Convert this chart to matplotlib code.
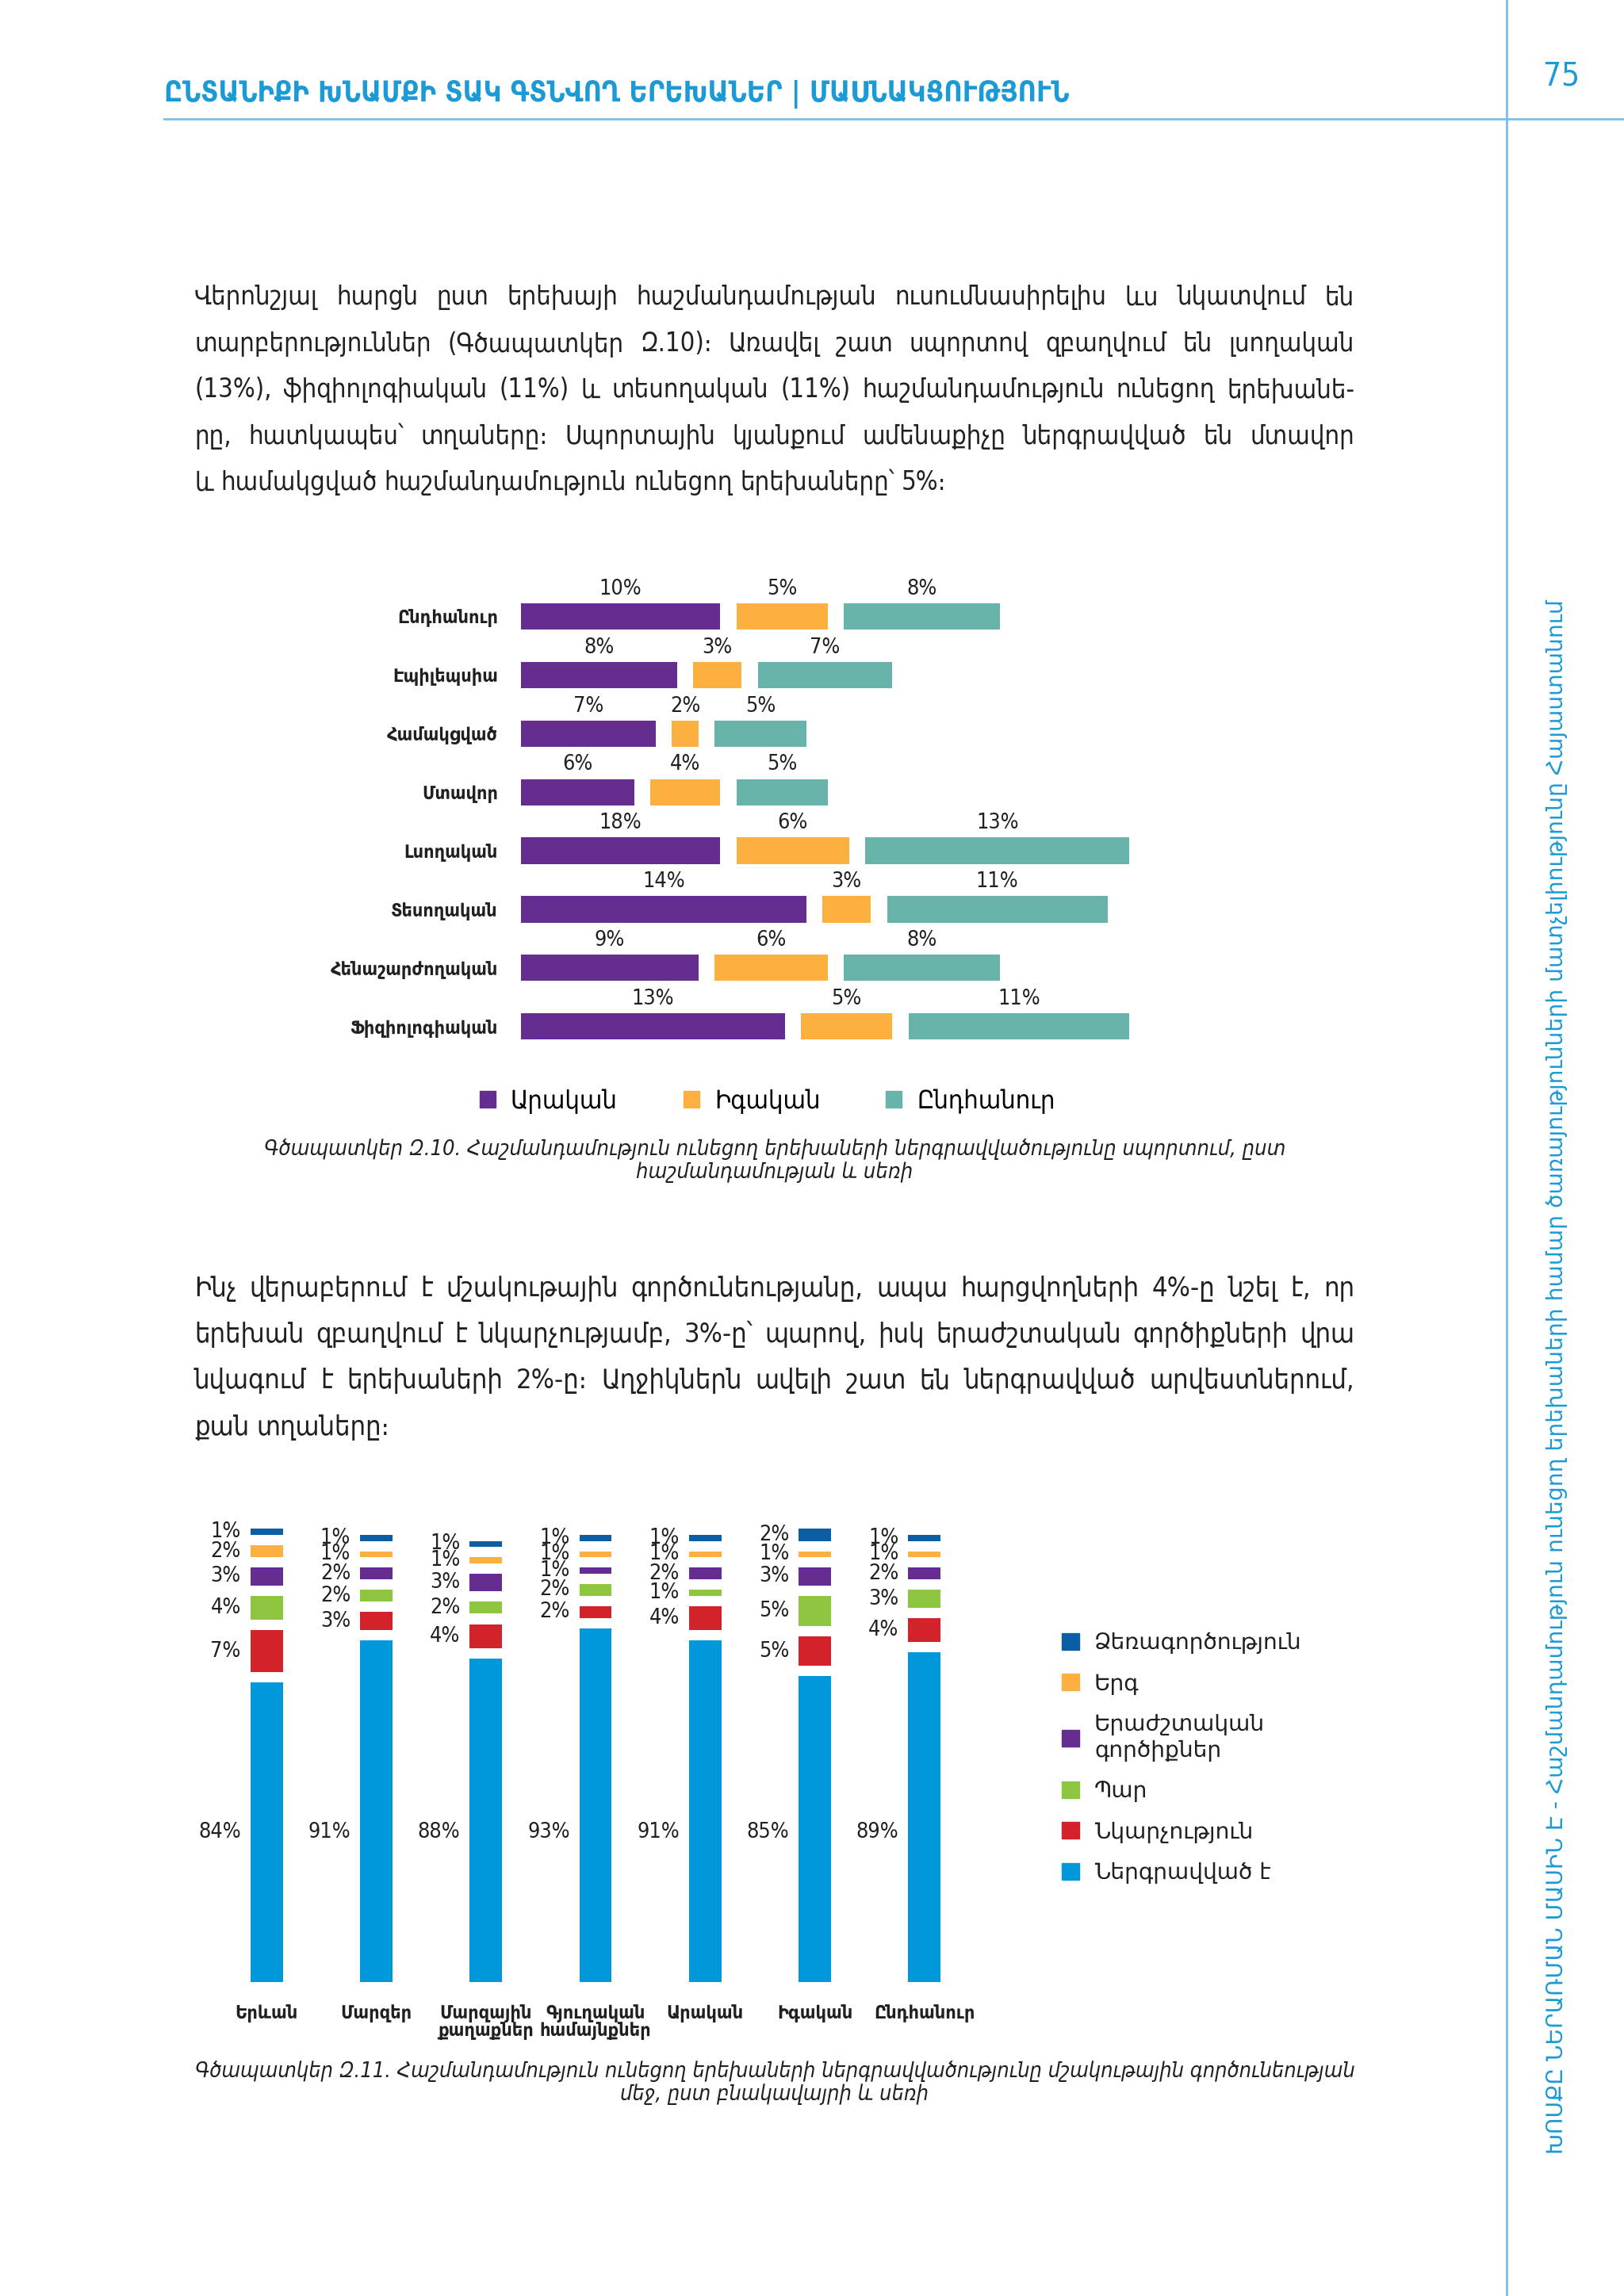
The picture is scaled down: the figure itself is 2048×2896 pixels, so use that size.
import matplotlib
matplotlib.use('Agg')
import matplotlib.pyplot as plt
from matplotlib.patches import Patch

plt.rcParams['font.family'] = ['DejaVu Sans']

# ---- page text ----
header = 'ԸՆՏԱՆԻՔԻ ԽՆԱՄՔԻ ՏԱԿ ԳՏՆՎՈՂ ԵՐԵԽԱՆԵՐ | ՄԱՍՆԱԿՑՈՒԹՅՈՒՆ'
page_no = '75'
side_title = ('ԽՈՍՔԸ ՆԵՐԱՌՄԱՆ ՄԱՍԻՆ Է - Հաշմանդամություն ունեցող երեխաների համար '
              'ծառայությունների մատչելիությունը Հայաստանում')

para1 = [
    'Վերոնշյալ հարցն ըստ երեխայի հաշմանդամության ուսումնասիրելիս ևս նկատվում են',
    'տարբերություններ (Գծապատկեր Զ.10)։ Առավել շատ սպորտով զբաղվում են լսողական',
    '(13%), ֆիզիոլոգիական (11%) և տեսողական (11%) հաշմանդամություն ունեցող երեխանե-',
    'րը, հատկապես՝ տղաները։ Սպորտային կյանքում ամենաքիչը ներգրավված են մտավոր',
    'և համակցված հաշմանդամություն ունեցող երեխաները՝ 5%։',
]
para2 = [
    'Ինչ վերաբերում է մշակութային գործունեությանը, ապա հարցվողների 4%-ը նշել է, որ',
    'երեխան զբաղվում է նկարչությամբ, 3%-ը՝ պարով, իսկ երաժշտական գործիքների վրա',
    'նվագում է երեխաների 2%-ը։ Աղջիկներն ավելի շատ են ներգրավված արվեստներում,',
    'քան տղաները։',
]
caption1 = ['Գծապատկեր Զ.10. Հաշմանդամություն ունեցող երեխաների ներգրավվածությունը սպորտում, ըստ',
            'հաշմանդամության և սեռի']
caption2 = ['Գծապատկեր Զ.11. Հաշմանդամություն ունեցող երեխաների ներգրավվածությունը մշակութային գործունեության',
            'մեջ, ըստ բնակավայրի և սեռի']

# ---- chart Z.10 data ----
disab = ['Ընդհանուր', 'Էպիլեպսիա', 'Համակցված', 'Մտավոր', 'Լսողական',
         'Տեսողական', 'Հենաշարժողական', 'Ֆիզիոլոգիական']
male_pct = [10, 8, 7, 6, 18, 14, 9, 13]      # printed labels
male_bar = [10, 8, 7, 6, 10, 14, 9, 13]      # drawn lengths (Լսողական bar is short in source)
female_pct = [5, 3, 2, 4, 6, 3, 6, 5]
total_pct = [8, 7, 5, 5, 13, 11, 8, 11]
sex_names = ['Արական', 'Իգական', 'Ընդհանուր']

# ---- chart Z.11 data ----
places = ['Երևան', 'Մարզեր', 'Մարզային\nքաղաքներ', 'Գյուղական\nհամայնքներ',
          'Արական', 'Իգական', 'Ընդհանուր']
involved = [84, 91, 88, 93, 91, 85, 89]
drawing = [7, 3, 4, 2, 4, 5, 4]
dance = [4, 2, 2, 2, 1, 5, 3]
instruments = [3, 2, 3, 1, 2, 3, 2]
song = [2, 1, 1, 1, 1, 1, 1]
handicraft = [1, 1, 1, 1, 1, 2, 1]
activity_names = ['Ներգրավված է', 'Նկարչություն', 'Պար', 'Երաժշտական\nգործիքներ',
                  'Երգ', 'Ձեռագործություն']

PURPLE, ORANGE, TEAL = '#662d91', '#fbb040', '#67b3aa'
BLUE, RED, GREEN, DARKBLUE = '#0098da', '#d2232a', '#8cc63f', '#0b5ea4'
INK = '#231f20'
HEAD = '#1b9ad6'
RULE = '#79bde9'

W, H = 2048, 2896
fig = plt.figure(figsize=(W / 100, H / 100), dpi=100)
fig.patch.set_facecolor('white')
renderer = fig.canvas.get_renderer()


def fx(x):
    return x / W


def fy(y):
    return 1 - y / H


def measure(s, size, **kw):
    t = fig.text(0, 0, s, fontsize=size, **kw)
    w = t.get_window_extent(renderer).width
    t.remove()
    return w


def fit_size(s, target, **kw):
    return 20 * target / measure(s, 20, **kw)


def paragraph(lines, x0, x1, y0, step, **kw):
    # pick a size so the longest line fits, then justify all but the last line
    space20 = measure('a a', 20, **kw) - measure('aa', 20, **kw)
    nat = max(sum(measure(w, 20, **kw) for w in ln.split(' ')) + space20 * (len(ln.split(' ')) - 1)
              for ln in lines)
    size = min(20 * (x1 - x0) * 0.97 / nat, 30)
    space = space20 * size / 20
    for i, ln in enumerate(lines):
        words = ln.split(' ')
        widths = [measure(w, size, **kw) for w in words]
        if i < len(lines) - 1:
            gap = (x1 - x0 - sum(widths)) / (len(words) - 1)
        else:
            gap = space
        x = x0
        for w, wd in zip(words, widths):
            fig.text(fx(x), fy(y0 + i * step), w, fontsize=size, va='baseline', color=INK, **kw)
            x += wd + gap


cond = dict(fontstretch='condensed')

# ---- page furniture ----
fig.add_artist(plt.Line2D([fx(207), 1], [fy(150), fy(150)], color=RULE, lw=2))
fig.add_artist(plt.Line2D([fx(1900), fx(1900)], [0, 1], color=RULE, lw=2))
hs = fit_size(header, 1141, fontweight='bold', **cond)
fig.text(fx(207), fy(128), header, fontsize=hs, fontweight='bold', color=HEAD, va='baseline', **cond)
fig.text(fx(1969), fy(96), page_no, fontsize=29, color=HEAD, ha='center', va='center', **cond)
ss = fit_size(side_title, 1961)
fig.text(fx(1963), fy(1737), side_title, fontsize=ss, color=HEAD, rotation=90,
         ha='center', va='center')

paragraph(para1, 245, 1708, 384, 58.6, **cond)
paragraph(para2, 245, 1708, 1635, 58.2, **cond)

cap_kw = dict(fontstyle='italic', **cond)
c1 = fit_size(caption1[0], 1289, **cap_kw)
for i, ln in enumerate(caption1):
    fig.text(fx(977), fy(1457 + i * 29), ln, fontsize=c1, ha='center', va='baseline', color=INK, **cap_kw)
c2 = fit_size(caption2[0], 1463, **cap_kw)
for i, ln in enumerate(caption2):
    fig.text(fx(977), fy(2620 + i * 29), ln, fontsize=c2, ha='center', va='baseline', color=INK, **cap_kw)

val_fs = fit_size('84%', 54, **cond)

# ---- chart Z.10: segmented horizontal bars ----
ax1 = fig.add_axes([fx(657), fy(1339), 814.5 / W, 635.4 / H])
gap1 = 0.75
rows = range(len(disab))
left = [0] * len(disab)
for bars, pcts, col in [(male_bar, male_pct, PURPLE), (female_pct, female_pct, ORANGE),
                        (total_pct, total_pct, TEAL)]:
    w = [b - gap1 for b in bars]
    ax1.barh(rows, w, left=left, height=0.45, color=col)
    for r, l, ww, p in zip(rows, left, w, pcts):
        ax1.text(l + ww / 2, r - 0.47, f'{p}%', ha='center', va='center', fontsize=val_fs, color=INK, **cond)
    left = [l + b for l, b in zip(left, bars)]
ax1.set_xlim(0, 30)
ax1.set_ylim(7.6, -1.0)
cat_fs = fit_size('Հենաշարժողական', 211, fontweight='bold', **cond)
ax1.set_yticks(list(rows), disab, fontsize=cat_fs, fontweight='bold', color=INK, **cond)
ax1.tick_params(axis='y', length=0, pad=21)
ax1.set_xticks([])
for s in ax1.spines.values():
    s.set_visible(False)
ax1.patch.set_alpha(0)

leg_fs = fit_size('Արական', 135, **cond)
lp = leg_fs * 100 / 72
fig.legend([Patch(color=c) for c in (PURPLE, ORANGE, TEAL)], sex_names, ncol=3,
           loc='center left', bbox_to_anchor=(fx(605), fy(1389)), frameon=False,
           handlelength=20 / lp, handleheight=20 / lp,
           handletextpad=19 / lp, columnspacing=83 / lp, borderpad=0, borderaxespad=0,
           prop=dict(stretch='condensed', size=leg_fs))

# ---- chart Z.11: segmented stacked columns ----
ax2 = fig.add_axes([fx(267), fy(2500), 968 / W, 589.7 / H])
gap2 = 1.72
bw = 0.296
xs = range(len(places))
bottom = [0] * len(places)
series = [involved, drawing, dance, instruments, song, handicraft]
colors = [BLUE, RED, GREEN, PURPLE, ORANGE, DARKBLUE]
for k, (vals, col) in enumerate(zip(series, colors)):
    base = [b + k * gap2 for b in bottom]
    ax2.bar(xs, vals, bottom=base, width=bw, color=col)
    for x, b, v in zip(xs, base, vals):
        # the big "included" share is labelled at one common height
        yc = 59 if k == 0 else b + v / 2
        ax2.annotate(f'{v}%', (x - bw / 2, yc), xytext=(-8.5, 0), textcoords='offset points',
                     ha='right', va='center', fontsize=val_fs, color=INK, **cond)
    bottom = [b + v for b, v in zip(bottom, vals)]
ax2.set_xlim(-0.5, 6.5)
ax2.set_ylim(34, 112)
pl_fs = fit_size('համայնքներ', 140, fontweight='bold', **cond)
ax2.set_xticks(list(xs), places, fontsize=pl_fs, fontweight='bold', color=INK, **cond)
for t in ax2.get_xticklabels():
    t.set_linespacing(0.95)
ax2.tick_params(axis='x', length=0, pad=20)
ax2.set_yticks([])
for s in ax2.spines.values():
    s.set_visible(False)
ax2.patch.set_alpha(0)

leg2_fs = fit_size('Ձեռագործություն', 262)
lp2 = leg2_fs * 100 / 72
leg2 = fig.legend([Patch(color=c) for c in colors[::-1]], activity_names[::-1],
                  loc='upper left', bbox_to_anchor=(fx(1339), fy(2058)), frameon=False,
                  fontsize=leg2_fs, handlelength=22 / lp2, handleheight=22 / lp2,
                  handletextpad=19 / lp2, labelspacing=0.84, borderpad=0, borderaxespad=0)
for t in leg2.get_texts():
    t.set_linespacing(1.2)
    t.set_color(INK)

fig.savefig('out.png', dpi=100, facecolor='white')
